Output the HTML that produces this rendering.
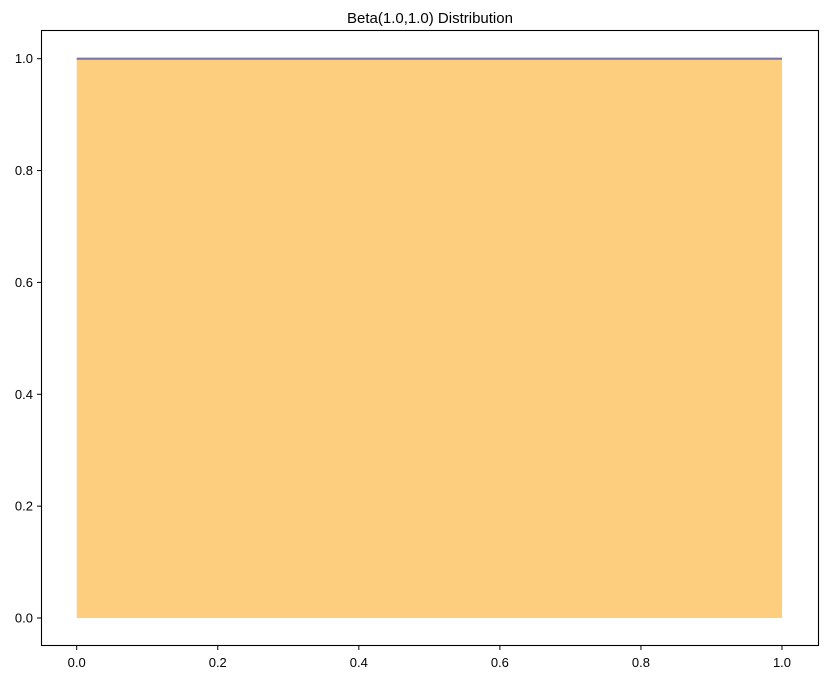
<!DOCTYPE html>
<html><head><meta charset="utf-8"><style>
body{margin:0;background:#fff}
svg text{font-family:"Liberation Sans","DejaVu Sans",sans-serif;font-size:13px;fill:#000}
</style></head><body>
<svg id="chart" width="826" height="680">
<text x="430" y="23" text-anchor="middle" style="font-size:15px">Beta(1.0,1.0) Distribution</text>
<g id="plot"></g>
<rect x="41.5" y="30.5" width="777" height="615" fill="none" stroke="#000" stroke-width="1.1"/>
</svg>
<script>
const xs = [0.0, 0.25, 0.5, 0.75, 1.0];
const ys = [1.0, 1.0, 1.0, 1.0, 1.0];
const xTicks = ["0.0","0.2","0.4","0.6","0.8","1.0"];
const yTicks = ["0.0","0.2","0.4","0.6","0.8","1.0"];
const sx = v => 76.7 + v*(782-76.7);
const sy = v => 618 - v*(618-58.7);
const g = document.getElementById('plot');
const NS = 'http://www.w3.org/2000/svg';
function mk(t, a){const e=document.createElementNS(NS,t);for(const k in a)e.setAttribute(k,a[k]);g.appendChild(e);return e;}
let pts = xs.map((x,i)=>sx(x)+','+sy(ys[i]));
const area = mk('polygon',{points: sx(xs[0])+','+sy(0)+' '+pts.join(' ')+' '+sx(xs[xs.length-1])+','+sy(0), fill:'#fdce7e'});


const line = mk('polyline',{points: pts.join(' '), fill:'none', stroke:'#7d74a4', 'stroke-width':2.2});


xTicks.forEach(t=>{
  const x=sx(parseFloat(t));
  const l=mk('line',{x1:x,x2:x,y1:645.5,y2:650,stroke:'#000'});
  
  
  const tx=mk('text',{x:x,y:667,'text-anchor':'middle'});tx.textContent=t;
  
  
});
yTicks.forEach(t=>{
  const y=sy(parseFloat(t));
  const l=mk('line',{x1:37,x2:41.5,y1:y,y2:y,stroke:'#000'});
  
  
  const tx=mk('text',{x:33,y:y+4.5,'text-anchor':'end'});tx.textContent=t;
  
  
});
</script>
</body></html>
